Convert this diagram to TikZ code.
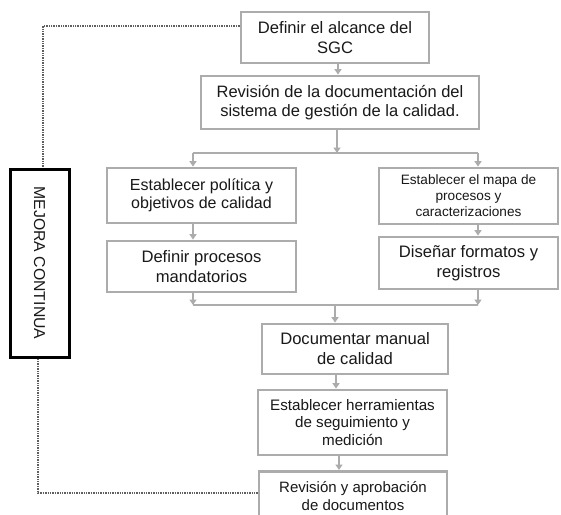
\documentclass[tikz,border=0pt]{standalone}
\usepackage{fontspec}
\setmainfont{Liberation Sans}
\usetikzlibrary{arrows.meta}
\definecolor{boxgray}{RGB}{172,172,172}
\definecolor{txt}{RGB}{25,25,25}
\definecolor{dotgray}{RGB}{95,95,95}
\tikzset{
  stepbox/.style={draw=boxgray, line width=2.8pt, fill=white, align=center, text=txt, inner sep=0pt},
  conn/.style={draw=boxgray, line width=2.4pt, -{Triangle[width=7pt,length=5.5pt]}},
  plain/.style={draw=boxgray, line width=2.4pt},
  dotline/.style={draw=dotgray, line width=1.4pt, densely dotted},
  fA/.style={font=\fontsize{16.6}{20}\selectfont},
}
\begin{document}
\begin{tikzpicture}[x=1pt,y=-1pt]
\clip (0,0) rectangle (561,514);
\fill[white] (0,0) rectangle (561,514);
% boxes
\node[stepbox, fA, minimum width=188pt, minimum height=51pt] (b1) at (335,37.5) {Definir el alcance del\\SGC};
\node[stepbox, font=\fontsize{16.5}{19}\selectfont, minimum width=278pt, minimum height=53pt] (b2) at (340,102.5) {Revisión de la documentación del\\sistema de gestión de la calidad.};
\node[stepbox, font=\fontsize{16}{18.5}\selectfont, minimum width=189pt, minimum height=55pt] (b3) at (201.5,195.5) {Establecer política y\\objetivos de calidad};
\node[stepbox, font=\fontsize{13.6}{16}\selectfont, minimum width=179pt, minimum height=56pt] (b4) at (468.5,196) {Establecer el mapa de\\procesos y\\caracterizaciones};
\node[stepbox, fA, minimum width=189pt, minimum height=51pt] (b5) at (201.5,266.5) {Definir procesos\\mandatorios};
\node[stepbox, fA, minimum width=179pt, minimum height=52pt] (b6) at (468.5,263) {Diseñar formatos y\\registros};
\node[stepbox, fA, minimum width=186pt, minimum height=50pt] (b7) at (355,349) {Documentar manual\\de calidad};
\node[stepbox, font=\fontsize{15.2}{17.5}\selectfont, minimum width=189pt, minimum height=65pt] (b8) at (352.5,422.5) {Establecer herramientas\\de seguimiento y\\medición};
\node[stepbox, font=\fontsize{15}{18}\selectfont, minimum width=188pt, minimum height=50pt, anchor=north] (b9) at (353,470) {Revisión y aprobación\\de documentos};
\node[draw=black, line width=3pt, fill=white, minimum width=59pt, minimum height=188pt, inner sep=0pt] (mej) at (39.5,263) {};
\node[rotate=-90, text=txt, font=\fontsize{15.8}{18}\selectfont] (mejt) at (mej.center) {MEJORA CONTINUA};
% helper coordinates
\coordinate (c1) at (338,0);
\coordinate (c2) at (337,153);
\coordinate (jl) at (193,153);
\coordinate (jr) at (478,153);
\coordinate (ml) at (193,305);
\coordinate (mr) at (478,305);
\coordinate (mc) at (335,305);
\coordinate (c3) at (336,0);
\coordinate (c4) at (339,0);
\coordinate (d1) at (43,26);
\coordinate (d2) at (38,493);
% connectors
\draw[conn] (b1.south -| c1) -- (b2.north -| c1);
\draw[plain] (jl) -- (jr);
\draw[conn] (b2.south -| c2) -- (c2);
\draw[conn] (jl) -- (b3.north -| jl);
\draw[conn] (jr) -- (b4.north -| jr);
\draw[conn] (b3.south -| jl) -- (b5.north -| jl);
\draw[conn] (b4.south -| jr) -- (b6.north -| jr);
\draw[plain] (ml) -- (mr);
\draw[conn] (b5.south -| ml) -- (ml);
\draw[conn] (b6.south -| mr) -- (mr);
\draw[conn] (mc) -- (b7.north -| mc);
\draw[conn] (b7.south -| c3) -- (b8.north -| c3);
\draw[conn] (b8.south -| c4) -- (b9.north -| c4);
% dotted feedback
\draw[dotline] (b1.west |- d1) -- (d1) -- (mej.north -| d1);
\draw[dotline] (mej.south -| d2) -- (d2) -- (b9.west |- d2);
\end{tikzpicture}
\end{document}
